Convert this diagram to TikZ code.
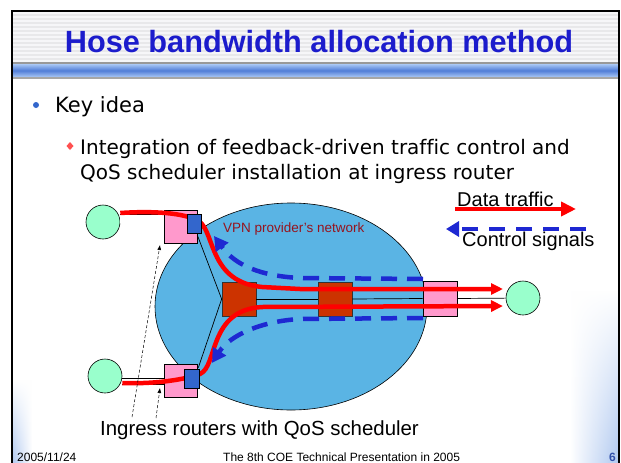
\documentclass[tikz,border=0pt]{standalone}
\usepackage{fontspec}
\setmainfont[Ligatures={TeX,NoCommon}]{Liberation Sans}
\newfontfamily\bodyfont[Ligatures={TeX,NoCommon}]{DejaVu Sans}
\usetikzlibrary{shapes.geometric,arrows.meta,fadings}
\definecolor{titleblue}{RGB}{28,28,204}
\definecolor{stripeA}{RGB}{232,232,234}
\definecolor{stripeB}{RGB}{246,246,248}
\definecolor{bandlight}{RGB}{170,200,245}
\definecolor{banddark}{RGB}{80,125,215}
\definecolor{netblue}{RGB}{90,180,228}
\definecolor{hostgreen}{RGB}{153,255,204}
\definecolor{pinkc}{RGB}{255,153,204}
\definecolor{qblue}{RGB}{51,102,204}
\definecolor{rbox}{RGB}{204,51,0}
\definecolor{datared}{RGB}{255,0,0}
\definecolor{ctrlblue}{RGB}{30,40,210}
\definecolor{vpnred}{RGB}{150,20,30}
\definecolor{bulletblue}{RGB}{51,102,204}
\definecolor{diamondred}{RGB}{255,80,80}
\definecolor{edgeblue}{RGB}{175,200,240}
\definecolor{pageblue}{RGB}{50,80,170}
\begin{document}
\begin{tikzpicture}[x=1pt,y=-1pt,
 pinkbox/.style={draw=black, line width=0.6pt, fill=pinkc, minimum width=33pt, minimum height=33pt, inner sep=0pt},
 qbox/.style={draw=black, line width=0.6pt, fill=qblue, minimum width=14pt, minimum height=19pt, inner sep=0pt},
 redbox/.style={draw=black!80, line width=0.7pt, fill=rbox, minimum size=34pt, inner sep=0pt},
 host/.style={circle, draw=black, line width=0.6pt, fill=hostgreen, minimum size=34pt, inner sep=0pt},
 link/.style={draw=black, line width=0.7pt},
 dbl/.style={draw=black, line width=0.7pt, double=white, double distance=8pt},
 data/.style={draw=datared, line width=4.5pt},
 ctrl/.style={draw=ctrlblue, line width=4.5pt, dash pattern=on 16pt off 10pt},
 note/.style={draw=black, line width=0.5pt, dash pattern=on 3pt off 2pt, -{Latex[length=5pt,width=4pt]}},
 lbl/.style={anchor=base west, inner sep=0pt},
]
\useasboundingbox (0,0) rectangle (621,463);
\fill[white] (0,0) rectangle (621,463);
% side gradients
\shade[left color=edgeblue, right color=white, path fading=north] (12,380) rectangle (32,463);
\shade[left color=white, right color=edgeblue, path fading=north] (570,290) rectangle (619,463);
% title band
\fill[stripeA] (12,11) rectangle (619,62);
\foreach \yy in {12,16,...,60} \fill[stripeB] (12,\yy) rectangle (619,\yy+2);
\fill[black!40] (12,62) rectangle (619,64);
\shade[top color=bandlight, bottom color=bandlight, middle color=banddark] (12,64) rectangle (619,77);
\fill[black!35] (12,77) rectangle (619,79);
% frame
\draw[line width=2pt] (11.5,463) -- (11.5,10.5) -- (619,10.5) -- (619,463);
% title
\node[anchor=base, inner sep=0pt, font=\bfseries\fontsize{30.7}{36}\selectfont, text=titleblue] (title) at (319,52) {Hose bandwidth allocation method};
% bullets
\fill[bulletblue] (36,105) circle (3);
\node[lbl, font=\bodyfont\fontsize{21}{25}\selectfont] (key) at (55,112) {Key idea};
\fill[diamondred] (70,142) -- (73.5,146) -- (70,150) -- (66.5,146) -- cycle;
\node[lbl, font=\bodyfont\fontsize{20}{24}\selectfont] (l1) at (80,154) {Integration of feedback-driven traffic control and};
\node[lbl, font=\bodyfont\fontsize{20}{24}\selectfont] (l2) at (80,179) {QoS scheduler installation at ingress router};
% network
\node[ellipse, draw=black, line width=0.6pt, fill=netblue, minimum width=272pt, minimum height=207pt, inner sep=0pt] (net) at (291,306.5) {};
\node[redbox] (r1) at (239,299) {};
\node[redbox] (r2) at (335,299) {};
\node[pinkbox] (p1) at (180.5,226.5) {};
\node[pinkbox] (p2) at (180.5,380.5) {};
\node[pinkbox, minimum width=34pt, minimum height=35pt] (p3) at (440,298.5) {};
\node[host] (g1) at (103,222) {};
\node[host] (g2) at (105,376) {};
\node[host] (g3) at (523,298) {};
\draw[link] ([yshift=-8.5pt]p1.east) -- (r1.west);
\draw[link] ([xshift=1pt,yshift=-4pt]p2.north east) -- (r1.west);
\draw[link] (r1.east) -- (r2.west);
\draw[link] (r2.east) -- (p3.west);
\draw[link] (p3.east) -- (g3);
\draw[dbl] ([yshift=3.5pt]g1.east) -- ([yshift=8pt]p1.west);
\draw[dbl, double distance=5pt] ([yshift=-5.5pt]g2.east) -- ([yshift=-1pt]p2.west);
\node[font=\fontsize{13.5}{16}\selectfont, text=vpnred, lbl] (vpn) at (223,232) {VPN provider's network};
% data traffic
\coordinate (t1) at (503,289);
\coordinate (t2) at (503,306);
\draw[data, -{Triangle[length=12pt,width=11pt]}] ([yshift=9pt]g1.east) .. controls (150,211) and (185,212) .. (200,222)
  .. controls (215,235) and (210,282) .. (262,287) -- (300,289) -- (t1);
\draw[data, -{Triangle[length=12pt,width=11pt]}] ([yshift=-7pt]g2.east) .. controls (150,384) and (180,381) .. (200,374)
  .. controls (218,366) and (208,310) .. (262,307) -- (t2);
\node[qbox] (b1) at (194,223.5) {};
\node[qbox, minimum width=15pt] (b2) at (191.5,378.5) {};
% control signals
\coordinate (c1) at (423,279);
\coordinate (c1t) at (214,236);
\coordinate (c2) at (423,318);
\coordinate (c2t) at (212,363);
\draw[ctrl, -{Triangle[length=14pt,width=15pt]}] (c1) -- (300,278) .. controls (260,276) and (235,265) .. (c1t);
\draw[ctrl, -{Triangle[length=14pt,width=15pt]}] (c2) -- (300,319) .. controls (262,321) and (230,335) .. (c2t);
% legend
\node[lbl, font=\fontsize{20}{24}\selectfont] (ldata) at (457,206) {Data traffic};
\coordinate (la1) at (455,209);
\coordinate (la2) at (576,209);
\draw[data, line width=4pt, -{Triangle[length=15pt,width=14pt]}] (la1) -- (la2);
\coordinate (lb1) at (586,229);
\coordinate (lb2) at (446,229);
\draw[ctrl, line width=4.5pt, dash pattern=on 16pt off 11pt, -{Triangle[length=13pt,width=15pt]}] (lb1) -- (lb2);
\node[lbl, font=\fontsize{20}{24}\selectfont] (lctrl) at (462,246) {Control signals};
% ingress label and pointers
\node[lbl, font=\fontsize{20.4}{24}\selectfont] (ing) at (100,435) {Ingress routers with QoS scheduler};
\coordinate (n1s) at (132,417);
\coordinate (n1e) at (160,245);
\coordinate (n2s) at (156,418);
\coordinate (n2e) at (160,388);
\draw[note] (n1s) -- (n1e);
\draw[note] (n2s) -- (n2e);
% footer
\node[lbl, font=\fontsize{12}{14}\selectfont] (date) at (17,461) {2005/11/24};
\node[lbl, font=\fontsize{12}{14}\selectfont] (conf) at (223,461) {The 8th COE Technical Presentation in 2005};
\node[lbl, font=\bfseries\fontsize{12}{14}\selectfont, text=pageblue] (page) at (609,461) {6};
\end{tikzpicture}
\end{document}
